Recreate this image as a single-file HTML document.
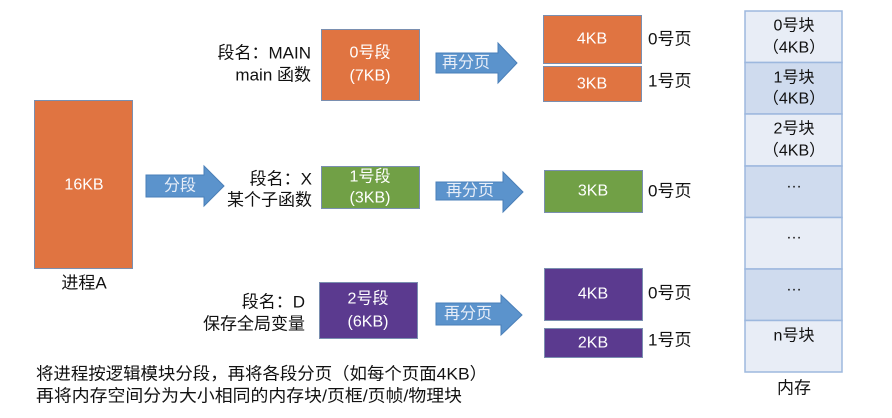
<!DOCTYPE html>
<html><head><meta charset="utf-8"><style>
html,body{margin:0;padding:0;background:#fff;}
svg{display:block;}
text{font-family:"Liberation Sans","Noto Sans CJK SC",sans-serif;}
</style></head><body>
<svg width="892" height="418" viewBox="0 0 892 418" xmlns="http://www.w3.org/2000/svg">
<g stroke="#7a8fb0" stroke-width="1">
<rect x="34.5" y="100.5" width="98" height="168" fill="#e07441"/>
<rect x="321.5" y="29.5" width="98" height="71" fill="#e07441"/>
<rect x="321.5" y="166.5" width="98" height="42" fill="#71a046"/>
<rect x="319.5" y="282.5" width="98" height="56" fill="#5b3a8f"/>
<rect x="543.5" y="15.5" width="98" height="48" fill="#e07441"/>
<rect x="543.5" y="66.5" width="98" height="35" fill="#e07441"/>
<rect x="544.5" y="170.5" width="98" height="42" fill="#71a046"/>
<rect x="544.5" y="268.5" width="98" height="52" fill="#5b3a8f"/>
<rect x="544.5" y="328.5" width="98" height="29" fill="#5b3a8f"/>
</g>
<g fill="#5b93cc" stroke="#4a7fb8" stroke-width="1">
<polygon points="146,175 204,175 204,166 224,186 204,206 204,197 146,197"/>
<polygon points="436,53 498,53 498,43 517,63 498,83 498,73 436,73"/>
<polygon points="436,182 503,182 503,172 523,192 503,212 503,200 436,200"/>
<polygon points="436,303 501,303 501,295 522,315 501,335 501,325 436,325"/>
</g>
<g fill="#fff" font-size="16" text-anchor="middle" dominant-baseline="central">
<text x="84" y="185">16KB</text>
<text x="370" y="53">0号段</text><text x="370" y="76">(7KB)</text>
<text x="370" y="177">1号段</text><text x="370" y="198">(3KB)</text>
<text x="368" y="299">2号段</text><text x="368" y="322">(6KB)</text>
<text x="592" y="39">4KB</text><text x="592" y="84">3KB</text>
<text x="593" y="191">3KB</text>
<text x="593" y="294">4KB</text><text x="593" y="343">2KB</text>
<text x="180" y="186" fill="#e8eef8">分段</text>
<text x="466" y="63" fill="#e8eef8">再分页</text>
<text x="470" y="191" fill="#e8eef8">再分页</text>
<text x="468" y="314" fill="#e8eef8">再分页</text>
</g>
<g fill="#111" font-size="17" dominant-baseline="central">
<g text-anchor="end">
<text x="311" y="53">段名：MAIN</text><text x="311" y="75">main 函数</text>
<text x="312" y="179">段名：X</text><text x="312" y="200">某个子函数</text>
<text x="305" y="302">段名：D</text><text x="305" y="324">保存全局变量</text>
</g>
<text x="648" y="39">0号页</text><text x="648" y="81">1号页</text>
<text x="648" y="191">0号页</text>
<text x="648" y="293">0号页</text><text x="648" y="340">1号页</text>
<text x="84" y="283" text-anchor="middle">进程A</text>
<text x="36" y="374" textLength="451" lengthAdjust="spacingAndGlyphs">将进程按逻辑模块分段，再将各段分页（如每个页面4KB）</text>
<text x="36" y="396" textLength="426" lengthAdjust="spacingAndGlyphs">再将内存空间分为大小相同的内存块/页框/页帧/物理块</text>
<text x="794" y="388" text-anchor="middle">内存</text>
</g>
<g stroke="#9db8de" stroke-width="1.5">
<rect x="745" y="11" width="97" height="51.5" fill="#e8edf6"/>
<rect x="745" y="62.5" width="97" height="51.5" fill="#cfdbee"/>
<rect x="745" y="114" width="97" height="52" fill="#e8edf6"/>
<rect x="745" y="166" width="97" height="51.5" fill="#cfdbee"/>
<rect x="745" y="217.5" width="97" height="51.5" fill="#e8edf6"/>
<rect x="745" y="269" width="97" height="51.5" fill="#cfdbee"/>
<rect x="745" y="320.5" width="97" height="51.5" fill="#e8edf6"/>
</g>
<g fill="#111" font-size="16" text-anchor="middle" dominant-baseline="central">
<text x="794" y="26">0号块</text><text x="794" y="48">（4KB）</text>
<text x="794" y="78">1号块</text><text x="794" y="99">（4KB）</text>
<text x="794" y="129">2号块</text><text x="794" y="151">（4KB）</text>
<text x="794" y="183">…</text>
<text x="794" y="234">…</text>
<text x="794" y="286">…</text>
<text x="794" y="336">n号块</text>
</g>
</svg>
</body></html>
